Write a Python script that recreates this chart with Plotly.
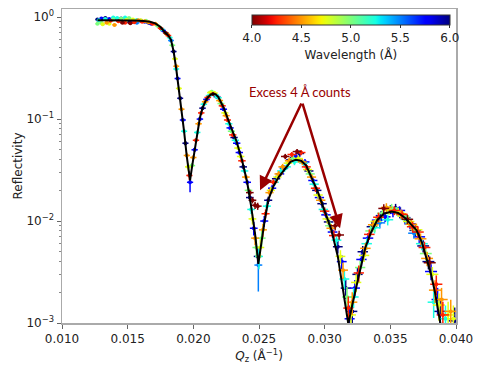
import numpy as np
import plotly.graph_objects as go

# ---------------- fitted model curve ----------------
q_fit = [0.0127,0.0135,0.0145,0.0155,0.0162,0.0167,0.0171,0.0175,0.0178,0.0181,
         0.0183,0.0185,0.0187,0.0189,0.0191,0.0193,0.0195,0.0197,0.01975,0.0199,
         0.0201,0.0203,0.0205,0.0207,0.0209,0.0211,0.0213,0.0215,0.0217,0.0219,
         0.0223,0.0227,0.0231,0.0233,0.0237,0.0241,0.0244,0.0247,0.02495,0.0252,
         0.0254,0.0257,0.0261,0.0265,0.0270,0.0274,0.0278,0.0282,0.0286,0.0290,
         0.0295,0.0300,0.0305,0.0310,0.0314,0.0318,0.0321,0.0324,0.0327,0.0331,
         0.0335,0.0340,0.0345,0.0351,0.0356,0.0361,0.0366,0.0370,0.0374,0.0378,
         0.0381,0.0384,0.0387,0.0389]
r_fit = [0.935,0.935,0.93,0.925,0.915,0.90,0.87,0.80,0.72,0.66,
         0.60,0.46,0.31,0.20,0.125,0.075,0.043,0.028,0.025,0.034,
         0.050,0.075,0.103,0.128,0.148,0.163,0.173,0.177,0.175,0.165,
         0.130,0.095,0.070,0.060,0.040,0.024,0.014,0.0075,0.0038,0.0065,
         0.0095,0.016,0.022,0.027,0.033,0.038,0.040,0.039,0.035,0.027,
         0.019,0.0125,0.0083,0.0045,0.0022,0.00098,0.0015,0.0023,0.0033,0.0055,
         0.0076,0.0102,0.0118,0.0124,0.0120,0.0108,0.0092,0.0081,0.0062,0.0040,
         0.0030,0.0020,0.00115,0.00085]

# ---------------- measured points ----------------
q_data = [
    # plateau
    0.0127,0.0127,0.0128,0.0130,0.0130,0.0131,0.0133,0.0133,0.0134,0.0136,0.0136,0.0137,
    0.0139,0.0139,0.0140,0.0142,0.0142,0.0143,0.0145,0.0145,0.0146,0.0148,0.0148,0.0149,
    0.0151,0.0151,0.0152,0.0154,0.0154,0.0155,0.0157,0.0157,0.0158,0.0160,0.0160,0.0161,
    0.0163,0.0163,0.0164,0.0166,0.0166,0.0168,0.0169,
    # critical edge fall
    0.0171,0.0173,0.0175,0.0176,0.0177,0.0179,0.0180,0.0181,0.0182,0.0183,0.0184,0.0185,
    0.0186,0.0187,0.0187,0.0188,0.0189,0.0190,0.0191,0.0192,0.0193,0.0194,0.0195,0.0196,
    0.0197,0.01975,
    # first fringe
    0.0199,0.0200,0.0201,0.0202,0.0203,0.0204,0.0205,0.0206,0.0207,0.0208,0.0209,0.0210,
    0.0211,0.0212,0.0213,0.0214,0.0215,0.0216,0.0217,0.0218,0.0219,0.0220,0.0221,0.0222,
    0.0223,0.0224,0.0225,0.0226,0.0227,0.0228,0.0229,0.0230,0.0231,0.0232,0.0233,0.0234,
    0.0235,0.0236,0.0237,0.0238,0.0239,0.0240,0.0241,0.0242,
    # second fringe
    0.0243,0.0243,0.0244,0.0245,0.0245,0.0246,0.0247,0.0247,0.0248,0.0249,0.0249,0.02495,
    0.0250,0.0251,0.0252,0.0253,0.0254,0.0255,0.0256,0.0257,0.0258,0.0259,0.0260,0.0261,
    0.0262,0.0263,0.0264,0.0265,0.0266,0.0267,0.0268,0.0269,0.0270,0.0271,0.0272,0.0273,
    0.0274,0.0275,0.0276,0.0277,0.0278,0.0279,0.0280,0.0281,0.0282,0.0283,0.0284,0.0285,
    0.0286,0.0287,0.0288,0.0289,0.0290,0.0291,0.0292,0.0293,0.0294,0.0295,0.0296,0.0297,
    0.0298,0.0299,0.0300,0.0301,0.0302,0.0303,0.0304,0.0305,0.0306,0.0307,0.0308,0.0309,
    0.0310,0.0311,0.0312,0.0313,0.0314,0.0315,0.0316,0.0317,0.0318,0.0319,0.0320,0.0321,
    # third fringe
    0.0321,0.0322,0.0323,0.0324,0.0325,0.0326,0.0327,0.0328,0.0329,0.0330,
    0.0331,0.0332,0.0333,0.0334,0.0335,0.0336,0.0337,0.0338,0.0339,0.0340,
    0.0341,0.0342,0.0343,0.0344,0.0345,0.0346,0.0347,0.0348,0.0349,0.0350,
    0.0351,0.0352,0.0353,0.0354,0.0355,0.0356,0.0357,0.0358,0.0359,0.0360,
    0.0361,0.0362,0.0363,0.0364,0.0365,0.0366,0.0367,0.0368,0.0369,0.0370,
    0.0371,0.0372,0.0373,0.0374,0.0375,0.0376,0.0377,0.0378,0.0379,0.0380,
    0.0381,0.0382,0.0383,0.0384,0.0385,0.0386,0.0387,0.0388,0.0389,0.0390,
    0.0392,0.0394,0.0396,0.0398,0.0399,
]
r_data = [
    0.95,0.86,0.93,0.97,0.88,0.85,0.98,0.96,0.88,0.96,0.86,0.92,
    0.99,0.95,0.84,0.95,0.98,0.91,0.97,0.97,0.88,0.99,0.88,0.94,
    0.90,0.98,0.87,0.92,0.95,0.89,0.88,0.94,0.93,0.92,0.93,0.90,
    0.90,0.91,0.92,0.88,0.89,0.86,0.86,
    0.86,0.82,0.78,0.76,0.74,0.70,0.68,0.66,0.63,0.59,0.53,0.46,
    0.39,0.31,0.33,0.25,0.20,0.16,0.125,0.098,0.076,0.058,0.044,0.034,
    0.028,0.024,
    0.035,0.042,0.050,0.062,0.074,0.090,0.100,0.115,0.128,0.140,0.148,0.156,
    0.163,0.170,0.182,0.186,0.176,0.180,0.172,0.166,0.162,0.152,0.142,0.135,
    0.125,0.115,0.108,0.098,0.090,0.082,0.076,0.070,0.066,0.062,0.058,0.052,
    0.047,0.043,0.039,0.034,0.031,0.027,0.024,0.020,
    0.017,0.019,0.013,0.0105,0.016,0.0085,0.0068,0.0143,0.0055,0.0045,0.0140,0.0037,
    0.0045,0.0055,0.0068,0.0082,0.010,0.0118,0.014,0.016,0.019,0.020,0.021,0.024,
    0.024,0.026,0.027,0.029,0.029,0.031,0.034,0.033,0.043,0.034,0.037,0.039,
    0.040,0.045,0.041,0.038,0.043,0.048,0.041,0.046,0.047,0.038,0.037,0.038,
    0.034,0.032,0.031,0.029,0.027,0.025,0.023,0.021,0.020,0.018,0.017,0.016,
    0.0148,0.013,0.0125,0.0115,0.0105,0.0098,0.0090,0.0085,0.0078,0.0072,0.0090,0.0065,
    0.0056,0.0073,0.0045,0.0040,0.0033,0.0027,0.0022,0.0018,0.0014,0.0011,0.0012,0.0013,
    0.0016,0.0018,0.0022,0.0025,0.0030,0.0031,0.0035,0.0042,0.0050,0.0046,
    0.0054,0.0060,0.0068,0.0074,0.0080,0.0088,0.0092,0.0086,0.0099,0.0102,
    0.0109,0.0096,0.0113,0.0119,0.0133,0.0110,0.0136,0.0103,0.0128,0.0130,
    0.0134,0.0121,0.0127,0.0134,0.0125,0.0122,0.0127,0.0118,0.0116,0.0112,
    0.0108,0.0104,0.0104,0.0099,0.0094,0.0093,0.0088,0.0076,0.0081,0.0082,
    0.0078,0.0070,0.0067,0.0060,0.0057,0.0055,0.0048,0.0043,0.0040,0.0039,
    0.0032,0.0030,0.0016,0.0021,0.0024,0.0017,0.0015,0.0013,0.0017,0.0012,
    0.0011,0.0012,0.0013,0.0011,0.00105,
]
lam_data = [
    6.0,5.0,5.25,5.75,5.0,4.75,6.0,5.25,4.5,5.75,4.75,4.25,
    5.25,5.0,4.5,6.0,5.25,4.25,5.75,5.0,4.0,5.25,4.25,4.75,
    6.0,5.0,4.0,5.75,4.75,4.25,5.5,5.25,4.5,6.0,4.75,4.25,
    5.75,4.5,5.0,6.0,4.5,5.75,4.25,
    4.5,5.0,4.25,5.25,5.75,4.0,4.75,4.25,5.25,5.5,5.0,6.0,
    4.75,5.25,4.5,5.75,4.75,6.0,4.5,5.75,5.25,6.0,4.5,4.75,
    4.25,5.75,
    5.0,4.5,5.75,4.25,5.25,4.5,5.75,4.25,6.0,5.25,4.5,5.75,
    4.25,5.25,4.75,5.0,4.0,4.75,5.25,6.0,5.25,4.5,5.0,4.25,
    5.75,4.75,4.5,4.25,5.25,5.75,5.0,4.25,6.0,5.25,5.75,4.75,
    5.75,4.75,4.25,6.0,5.25,4.5,5.75,5.0,
    6.0,4.0,5.25,4.75,4.0,5.75,4.5,4.0,5.0,6.0,4.0,5.5,
    5.25,4.75,5.0,4.5,5.75,4.25,5.25,6.0,4.5,4.75,5.75,4.25,
    5.25,6.0,4.75,4.5,5.75,5.25,4.5,5.75,4.0,5.25,4.75,4.5,
    6.0,4.25,5.0,5.25,5.75,4.0,4.75,6.0,4.25,4.5,5.25,5.75,
    4.25,4.75,6.0,5.0,4.5,5.75,5.25,4.25,6.0,4.75,5.75,4.5,
    6.0,5.25,4.25,5.75,4.75,6.0,5.0,4.5,5.75,4.25,4.0,5.25,
    6.0,4.0,4.75,5.75,4.5,5.25,6.0,5.0,4.25,5.75,4.75,6.0,
    4.5,5.25,5.75,4.75,6.0,4.25,5.0,5.75,6.0,4.75,
    4.5,5.25,5.75,4.25,5.0,6.0,4.5,5.25,4.75,5.75,
    4.25,5.5,6.0,5.0,4.0,5.75,4.5,5.25,4.75,6.0,
    5.0,5.75,4.25,6.0,5.25,4.75,5.75,4.5,4.25,5.0,
    6.0,5.25,4.0,4.75,5.75,4.5,4.25,5.5,6.0,4.75,
    4.25,5.75,4.5,5.25,6.0,4.25,5.0,4.5,6.0,4.0,
    5.75,4.75,5.25,4.5,4.25,5.75,4.75,6.0,4.5,4.25,
    5.25,4.75,4.5,4.75,6.0,
]
dr_rel = [
    0.02,0.02,0.02,0.02,0.02,0.02,0.02,0.02,0.02,0.02,0.02,0.02,
    0.02,0.02,0.02,0.02,0.02,0.02,0.02,0.02,0.02,0.02,0.02,0.02,
    0.02,0.02,0.02,0.02,0.02,0.02,0.02,0.02,0.02,0.02,0.02,0.02,
    0.02,0.02,0.02,0.02,0.02,0.02,0.02,
    0.03,0.03,0.03,0.03,0.03,0.03,0.03,0.03,0.03,0.03,0.03,0.03,
    0.03,0.03,0.03,0.03,0.03,0.03,0.03,0.03,0.04,0.05,0.06,0.08,
    0.10,0.20,
    0.06,0.05,0.05,0.04,0.04,0.04,0.04,0.04,0.04,0.04,0.04,0.04,
    0.04,0.04,0.04,0.04,0.04,0.04,0.04,0.04,0.04,0.04,0.04,0.04,
    0.04,0.04,0.04,0.04,0.04,0.04,0.04,0.04,0.04,0.04,0.04,0.04,
    0.04,0.04,0.04,0.05,0.05,0.06,0.06,0.07,
    0.08,0.07,0.10,0.12,0.07,0.15,0.15,0.08,0.20,0.20,0.08,0.45,
    0.25,0.20,0.18,0.15,0.12,0.10,0.10,0.08,0.08,0.08,0.08,0.07,
    0.07,0.07,0.07,0.07,0.07,0.07,0.07,0.07,0.06,0.07,0.07,0.07,
    0.07,0.06,0.07,0.07,0.07,0.06,0.07,0.07,0.06,0.07,0.07,0.07,
    0.07,0.07,0.07,0.07,0.07,0.08,0.08,0.08,0.08,0.08,0.08,0.08,
    0.09,0.09,0.09,0.10,0.10,0.10,0.10,0.10,0.12,0.12,0.10,0.12,
    0.14,0.10,0.15,0.16,0.18,0.20,0.22,0.25,0.30,0.35,0.30,0.30,
    0.25,0.22,0.20,0.20,0.18,0.18,0.16,0.15,0.14,0.14,
    0.13,0.13,0.12,0.12,0.12,0.12,0.11,0.12,0.11,0.11,
    0.11,0.12,0.11,0.11,0.10,0.11,0.10,0.12,0.10,0.10,
    0.10,0.10,0.10,0.10,0.10,0.10,0.10,0.10,0.10,0.10,
    0.11,0.11,0.10,0.11,0.11,0.11,0.12,0.12,0.12,0.12,
    0.12,0.13,0.13,0.14,0.14,0.14,0.15,0.16,0.16,0.15,
    0.18,0.18,0.30,0.25,0.22,0.30,0.30,0.35,0.30,0.35,
    0.35,0.35,0.30,0.35,0.35,
]
dq_rel = 0.012          # instrument Q resolution (relative)
lam_ticks = [4.0, 4.5, 5.0, 5.5, 6.0]
lam_min, lam_max = 4.0, 6.0

assert len(q_data) == len(r_data) == len(lam_data) == len(dr_rel), \
    (len(q_data), len(r_data), len(lam_data), len(dr_rel))
assert len(q_fit) == len(r_fit)

# ---------------- matplotlib "jet" colour map (reversed) ----------------
_jet = {
    'r': [(0, 0), (0.35, 0), (0.66, 1), (0.89, 1), (1, 0.5)],
    'g': [(0, 0), (0.125, 0), (0.375, 1), (0.64, 1), (0.91, 0), (1, 0)],
    'b': [(0, 0.5), (0.11, 1), (0.34, 1), (0.65, 0), (1, 0)],
}


def jet(t):
    ch = []
    for k in 'rgb':
        xs, ys = zip(*_jet[k])
        ch.append(int(round(255 * float(np.interp(t, xs, ys)))))
    return 'rgb(%d,%d,%d)' % tuple(ch)


def lam_color(l):
    return jet(1 - (l - lam_min) / (lam_max - lam_min))


cscale = [[s, jet(1 - s)] for s in np.linspace(0, 1, 41)]

q_arr = np.array(q_data)
r_arr = np.array(r_data)
lam_arr = np.array(lam_data)
dr_arr = np.array(dr_rel) * r_arr
dq_arr = dq_rel * q_arr

fig = go.Figure()

for l in sorted(set(lam_data), reverse=True):
    m = lam_arr == l
    col = lam_color(l)
    fig.add_trace(go.Scatter(
        x=q_arr[m], y=r_arr[m], mode='markers',
        marker=dict(size=4, color=col),
        error_x=dict(type='data', array=dq_arr[m], color=col, thickness=1.5, width=0),
        error_y=dict(type='data', array=dr_arr[m], color=col, thickness=1.5, width=0),
        showlegend=False, hoverinfo='skip'))

fig.add_trace(go.Scatter(x=q_fit, y=r_fit, mode='lines',
                         line=dict(color='black', width=2),
                         showlegend=False, hoverinfo='skip'))

# colour bar carrier (point lies outside visible range)
fig.add_trace(go.Scatter(
    x=[0.02], y=[1e-6], mode='markers',
    marker=dict(size=1, color=[lam_min], cmin=lam_min, cmax=lam_max,
                colorscale=cscale, showscale=True,
                colorbar=dict(orientation='h', x=0.482, xanchor='left',
                              y=0.981, yanchor='top', len=198, lenmode='pixels',
                              thickness=10, thicknessmode='pixels',
                              xpad=0, ypad=0, outlinewidth=1, outlinecolor='#333',
                              tickvals=lam_ticks,
                              ticktext=['%.1f' % v for v in lam_ticks],
                              ticks='outside', ticklen=3, tickcolor='#333',
                              tickfont=dict(family='DejaVu Sans', size=12, color='#222'),
                              title=dict(text='Wavelength (Å)', side='bottom',
                                         font=dict(family='DejaVu Sans', size=12,
                                                   color='#222')))),
    showlegend=False, hoverinfo='skip'))

dark = '#990000'
apex = (0.02828, 0.147)
tips = [(0.02508, 0.0201), (0.03117, 0.0085)]
for tq, tr in tips:
    fig.add_annotation(x=tq, y=np.log10(tr), ax=apex[0], ay=np.log10(apex[1]),
                       xref='x', yref='y', axref='x', ayref='y', text='',
                       showarrow=True, arrowhead=2, arrowsize=1.1, arrowwidth=2.5,
                       arrowcolor=dark, standoff=0, startstandoff=0)
fig.add_annotation(x=0.02813, y=-0.734, xref='x', yref='y', text='Excess 4 Å counts',
                   showarrow=False, font=dict(family='Lato', size=13, color=dark))

xt = [0.010, 0.015, 0.020, 0.025, 0.030, 0.035, 0.040]
yt = [1e-3, 1e-2, 1e-1, 1]
minor_y = [m * 10.0 ** e for e in (-3, -2, -1) for m in range(2, 10)]

fig.update_layout(
    width=480, height=366,
    margin=dict(l=62, r=24, t=9, b=43),
    paper_bgcolor='white', plot_bgcolor='white',
    font=dict(family='DejaVu Sans', size=12, color='#222'),
    xaxis=dict(range=[0.010, 0.040], tickvals=xt, ticktext=['%.3f' % v for v in xt],
               ticks='outside', ticklen=4, tickcolor='#666', showline=True,
               linecolor='#aaa', linewidth=1.5, mirror=True, showgrid=False,
               zeroline=False, automargin=False,
               title=dict(text='<i>Q</i><sub>z</sub> (Å<sup>−1</sup>)', standoff=6,
                          font=dict(size=12))),
    yaxis=dict(type='log', range=[-3, 0.08], tickvals=yt,
               ticktext=['10<sup>−3</sup>', '10<sup>−2</sup>', '10<sup>−1</sup>', '10<sup>0</sup>'],
               ticks='outside', ticklen=4, tickcolor='#666', showline=True,
               linecolor='#aaa', linewidth=1.5, mirror=True, showgrid=False,
               zeroline=False, automargin=False,
               minor=dict(tickvals=minor_y, ticks='outside', ticklen=2, tickcolor='#888'),
               title=dict(text='Reflectivity', standoff=1, font=dict(size=12))),
)

fig.write_html('out.html', config={'displayModeBar': False, 'staticPlot': True},
               post_script="document.body.style.margin='0';"
                           "document.body.style.overflow='hidden';")
